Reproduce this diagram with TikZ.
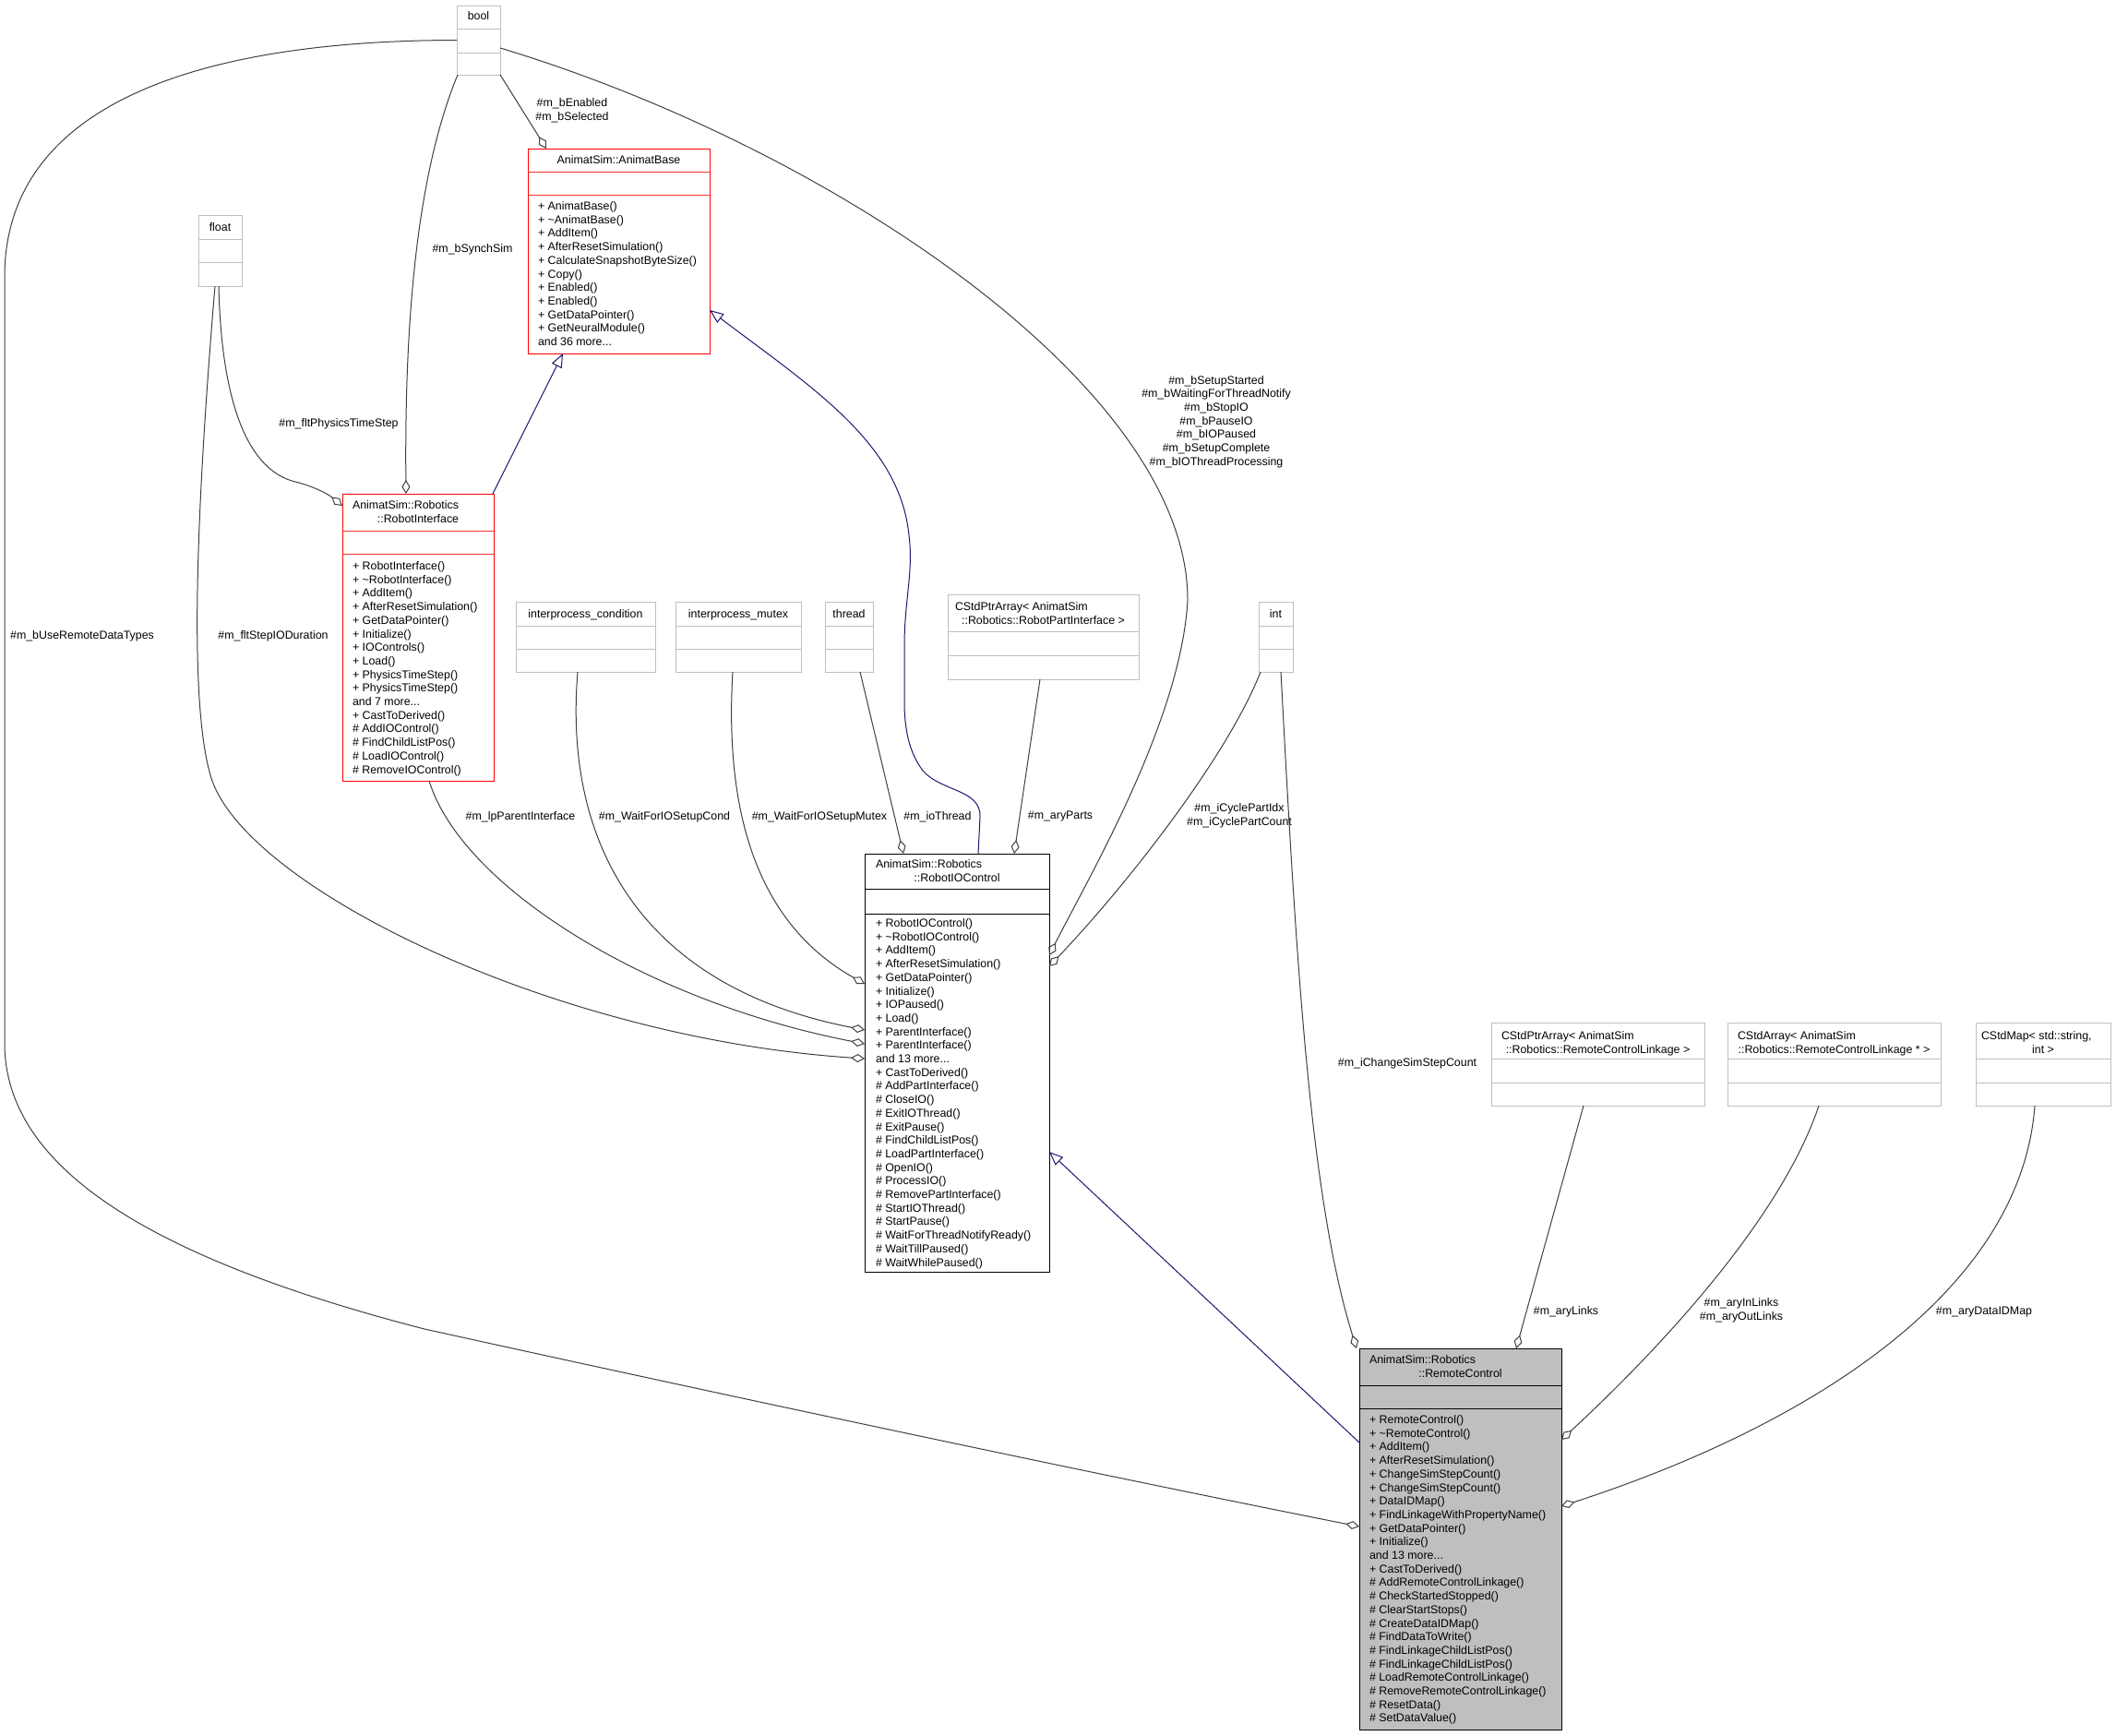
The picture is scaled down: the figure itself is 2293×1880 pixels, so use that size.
\documentclass[tikz,border=0pt]{standalone}
\usepackage{fontspec}
\setmainfont{Liberation Sans}
\usetikzlibrary{arrows.meta,calc}
\definecolor{grey75}{HTML}{BFBFBF}
\definecolor{grey25}{HTML}{404040}
\definecolor{midnight}{HTML}{191970}
\newcommand{\mydots}{...}
\tikzset{
  txt/.style={font=\fontsize{12.4}{14.7}\selectfont, inner sep=0pt, outer sep=0pt},
  gbox/.style={draw=grey75, line width=1pt, rectangle, inner sep=0pt, outer sep=0pt},
  gboxsep/.style={draw=grey75, line width=1pt},
  rbox/.style={draw=red, line width=1pt, rectangle, inner sep=0pt, outer sep=0pt},
  rboxsep/.style={draw=red!80!white, line width=1pt},
  kbox/.style={draw=black, line width=1pt, rectangle, inner sep=0pt, outer sep=0pt},
  kboxsep/.style={draw=black, line width=1pt},
  fbox/.style={draw=black, fill=grey75, line width=1pt, rectangle, inner sep=0pt, outer sep=0pt},
  fboxsep/.style={draw=black, line width=1pt},
  agg/.style={draw=grey25, line width=1pt, -{Diamond[open, length=15pt, width=9pt, line width=1pt]}},
  inh/.style={draw=midnight, line width=1pt, -{Triangle[open, length=15pt, width=12pt, line width=1pt]}},
  elbl/.style={txt, align=center, anchor=center}
}
\newcommand{\clsbox}[8]{%
  \node[#8, anchor=north west, minimum width={#4-#2}, minimum height={#5-#3}] (#1) at (#2,#3) {};
  \draw[#8sep] (#2,#6) -- (#4,#6);
  \draw[#8sep] (#2,#7) -- (#4,#7);
}
\newcommand{\mlist}[4]{%
  \foreach \t [count=\i] in {#4} {\node[txt, anchor=base west] (#1-\i) at ({#2},{#3+14.7*(\i-1)}) {\t};}%
}
\begin{document}
\begin{tikzpicture}[x=1pt,y=-1pt]
\useasboundingbox (0,0) rectangle (2293,1880);
\fill[white] (0,0) rectangle (2293,1880);

% ---------- boxes ----------
\clsbox{bool}{495}{6}{542}{81}{31}{57}{gbox}
\clsbox{float}{215}{233}{262}{310}{259}{284}{gbox}
\clsbox{ab}{572}{161}{769}{383}{186}{211}{rbox}
\clsbox{ri}{371}{535}{535}{846}{575}{600}{rbox}
\clsbox{ipc}{559}{652}{710}{728}{678}{703}{gbox}
\clsbox{ipm}{732}{652}{868}{728}{678}{703}{gbox}
\clsbox{thr}{894}{652}{946}{728}{678}{703}{gbox}
\clsbox{rpi}{1027}{644}{1234}{736}{684}{710}{gbox}
\clsbox{int}{1364}{652}{1401}{728}{678}{703}{gbox}
\clsbox{rioc}{937}{925}{1137}{1378}{963}{990}{kbox}
\clsbox{rc}{1473}{1461}{1692}{1874}{1501}{1526}{fbox}
\clsbox{rcl}{1616}{1108}{1847}{1198}{1147}{1173}{gbox}
\clsbox{rca}{1872}{1108}{2103}{1198}{1147}{1173}{gbox}
\clsbox{map}{2141}{1108}{2287}{1198}{1147}{1173}{gbox}

% ---------- box texts ----------
\node[txt,anchor=base] (bool-h) at (518.5,21.5) {bool};
\node[txt,anchor=base] (float-h) at (238.5,250.5) {float};
\node[txt,anchor=base] (int-h) at (1382.5,669.5) {int};
\node[txt,anchor=base] (ipc-h) at (634.5,669.5) {interprocess\_condition};
\node[txt,anchor=base] (ipm-h) at (800,669.5) {interprocess\_mutex};
\node[txt,anchor=base] (thr-h) at (920,669.5) {thread};
\node[txt,anchor=base west] (rpi-h1) at (1035,661.5) {CStdPtrArray< AnimatSim};
\node[txt,anchor=base] (rpi-h2) at (1130.5,676.2) {::Robotics::RobotPartInterface >};
\node[txt,anchor=base west] (rcl-h1) at (1627,1126.5) {CStdPtrArray< AnimatSim};
\node[txt,anchor=base] (rcl-h2) at (1731.5,1141.2) {::Robotics::RemoteControlLinkage >};
\node[txt,anchor=base west] (rca-h1) at (1883,1126.5) {CStdArray< AnimatSim};
\node[txt,anchor=base] (rca-h2) at (1987.5,1141.2) {::Robotics::RemoteControlLinkage * >};
\node[txt,anchor=base west] (map-h1) at (2147,1126.5) {CStdMap< std::string,};
\node[txt,anchor=base] (map-h2) at (2214,1141.2) {int >};

\node[txt,anchor=base] (ab-h) at (670.5,177.5) {AnimatSim::AnimatBase};
\mlist{ab}{583}{227.5}{+ AnimatBase(), + \textasciitilde AnimatBase(), + AddItem(), + AfterResetSimulation(), + CalculateSnapshotByteSize(), + Copy(), + Enabled(), + Enabled(), + GetDataPointer(), + GetNeuralModule(), and 36 more\mydots}

\node[txt,anchor=base west] (ri-h1) at (382,551.5) {AnimatSim::Robotics};
\node[txt,anchor=base] (ri-h2) at (453,566.2) {::RobotInterface};
\mlist{ri}{382}{617.5}{+ RobotInterface(), + \textasciitilde RobotInterface(), + AddItem(), + AfterResetSimulation(), + GetDataPointer(), + Initialize(), + IOControls(), + Load(), + PhysicsTimeStep(), + PhysicsTimeStep(), and 7 more\mydots, + CastToDerived(), \# AddIOControl(), \# FindChildListPos(), \# LoadIOControl(), \# RemoveIOControl()}

\node[txt,anchor=base west] (rioc-h1) at (949,940.5) {AnimatSim::Robotics};
\node[txt,anchor=base] (rioc-h2) at (1037,955.2) {::RobotIOControl};
\mlist{rioc}{949}{1004.5}{+ RobotIOControl(), + \textasciitilde RobotIOControl(), + AddItem(), + AfterResetSimulation(), + GetDataPointer(), + Initialize(), + IOPaused(), + Load(), + ParentInterface(), + ParentInterface(), and 13 more\mydots, + CastToDerived(), \# AddPartInterface(), \# CloseIO(), \# ExitIOThread(), \# ExitPause(), \# FindChildListPos(), \# LoadPartInterface(), \# OpenIO(), \# ProcessIO(), \# RemovePartInterface(), \# StartIOThread(), \# StartPause(), \# WaitForThreadNotifyReady(), \# WaitTillPaused(), \# WaitWhilePaused()}

\node[txt,anchor=base west] (rc-h1) at (1484,1477.5) {AnimatSim::Robotics};
\node[txt,anchor=base] (rc-h2) at (1582.5,1492.2) {::RemoteControl};
\mlist{rc}{1484}{1542.5}{+ RemoteControl(), + \textasciitilde RemoteControl(), + AddItem(), + AfterResetSimulation(), + ChangeSimStepCount(), + ChangeSimStepCount(), + DataIDMap(), + FindLinkageWithPropertyName(), + GetDataPointer(), + Initialize(), and 13 more\mydots, + CastToDerived(), \# AddRemoteControlLinkage(), \# CheckStartedStopped(), \# ClearStartStops(), \# CreateDataIDMap(), \# FindDataToWrite(), \# FindLinkageChildListPos(), \# FindLinkageChildListPos(), \# LoadRemoteControlLinkage(), \# RemoveRemoteControlLinkage(), \# ResetData(), \# SetDataValue()}

% ---------- connectors ----------
% bool
\draw[agg] (bool.west) .. controls (200,44) and (5,120) .. (5,300) -- (5,1130) .. controls (5,1260) and (150,1360) .. (460,1440) .. controls (800,1515) and (1200,1600) .. ($(rc.north west)+(0,193)$);
\draw[agg] ($(bool.north west)+(47,75)$) -- ($(ab.north west)+(20,0)$);
\draw[agg] ($(bool.north west)+(1,75)$) .. controls (455,180) and (438,330) .. ($(ri.north west)+(69,0)$);
\draw[agg] ($(bool.north west)+(47,46)$) .. controls (900,160) and (1287,420) .. (1287,650) .. controls (1280,780) and (1180,950) .. ($(rioc.north east)+(0,110)$);
% float
\draw[agg] ($(float.north west)+(22,77)$) .. controls (240,440) and (270,510) .. (320,522) .. controls (340,527) and (355,535) .. ($(ri.north west)+(0,13)$);
\draw[agg] ($(float.north west)+(18,77)$) .. controls (212,560) and (205,760) .. (228,840) .. controls (262,960) and (600,1125) .. ($(rioc.north west)+(0,222)$);
% inheritance
\draw[inh] ($(ri.north east)+(-1,0)$) -- ($(ab.south west)+(38,0)$);
\draw[inh] ($(rioc.north west)+(123,0)$) -- (1062,885) .. controls (1063,855) and (1020,858) .. (1000,835) .. controls (985,815) and (980,790) .. (980,760) -- (980,700) .. controls (980,650) and (990,620) .. (985,580) .. controls (975,480) and (880,420) .. ($(ab.north east)+(0,175)$);
\draw[inh] ($(rc.north west)+(0,102)$) -- ($(rioc.north east)+(0,323)$);
% to RobotIOControl
\draw[agg] ($(ri.south west)+(94,0)$) .. controls (500,960) and (700,1085) .. ($(rioc.north west)+(0,206)$);
\draw[agg] ($(ipc.south west)+(67,0)$) .. controls (610,920) and (700,1070) .. ($(rioc.north west)+(0,191)$);
\draw[agg] ($(ipm.south west)+(62,0)$) .. controls (785,880) and (820,1000) .. ($(rioc.north west)+(0,141)$);
\draw[agg] ($(thr.south west)+(38,0)$) -- ($(rioc.north west)+(42,0)$);
\draw[agg] ($(rpi.south west)+(100,0)$) -- ($(rioc.north west)+(162,0)$);
\draw[agg] ($(int.south west)+(2,0)$) .. controls (1330,820) and (1220,960) .. ($(rioc.north east)+(0,122)$);
% to RemoteControl
\draw[agg] ($(int.south west)+(24,0)$) .. controls (1405,1050) and (1420,1300) .. ($(rc.north west)+(-3,0)$);
\draw[agg] ($(rcl.south west)+(100,0)$) -- ($(rc.north west)+(170,0)$);
\draw[agg] ($(rca.south west)+(99,0)$) .. controls (1930,1320) and (1800,1460) .. ($(rc.north east)+(0,99)$);
\draw[agg] ($(map.south west)+(64,0)$) .. controls (2190,1400) and (1960,1545) .. ($(rc.north east)+(0,171)$);

% ---------- edge labels ----------
\node[elbl] (l-en) at (620,120) {\#m\_bEnabled\\\#m\_bSelected};
\node[elbl] (l-sy) at (512,270) {\#m\_bSynchSim};
\node[elbl] (l-ph) at (367,459) {\#m\_fltPhysicsTimeStep};
\node[elbl] (l-st) at (296,689) {\#m\_fltStepIODuration};
\node[elbl] (l-ur) at (89,689) {\#m\_bUseRemoteDataTypes};
\node[elbl] (l-bs) at (1318,457) {\#m\_bSetupStarted\\\#m\_bWaitingForThreadNotify\\\#m\_bStopIO\\\#m\_bPauseIO\\\#m\_bIOPaused\\\#m\_bSetupComplete\\\#m\_bIOThreadProcessing};
\node[elbl] (l-pi) at (564,885) {\#m\_lpParentInterface};
\node[elbl] (l-wc) at (720,885) {\#m\_WaitForIOSetupCond};
\node[elbl] (l-wm) at (888,885) {\#m\_WaitForIOSetupMutex};
\node[elbl] (l-io) at (1016,885) {\#m\_ioThread};
\node[elbl] (l-ap) at (1149,885) {\#m\_aryParts};
\node[elbl] (l-cy) at (1343,884) {\#m\_iCyclePartIdx\\\#m\_iCyclePartCount};
\node[elbl] (l-cs) at (1525,1152) {\#m\_iChangeSimStepCount};
\node[elbl] (l-al) at (1697,1421) {\#m\_aryLinks};
\node[elbl] (l-ai) at (1887,1420) {\#m\_aryInLinks\\\#m\_aryOutLinks};
\node[elbl] (l-dm) at (2150,1421) {\#m\_aryDataIDMap};
\end{tikzpicture}
\end{document}
